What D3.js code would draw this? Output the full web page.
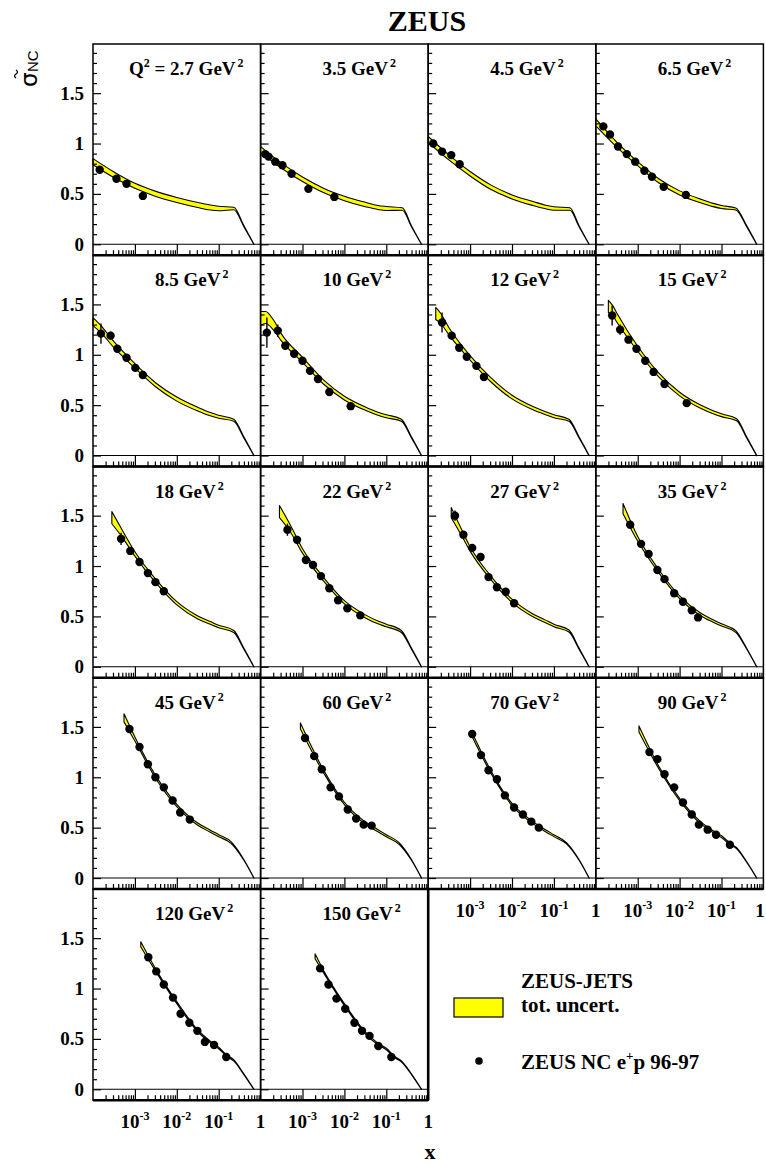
<!DOCTYPE html>
<html><head><meta charset="utf-8">
<script src="https://cdn.jsdelivr.net/npm/d3@7"></script>
<style>body{margin:0;background:#fff}svg{display:block}</style>
</head><body><svg id="c" width="766" height="1165"></svg>
<script>
// ---------- data ----------
const q2Values = [2.7, 3.5, 4.5, 6.5, 8.5, 10, 12, 15, 18, 22, 27, 35, 45, 60, 70, 90, 120, 150];

// ZEUS-JETS fit: log10(x), central reduced cross section, total uncertainty
const curveLogX = [
  [-4, -3.5, -3, -2.5, -2, -1.5, -1.2, -1, -0.64, -0.4, -0.16],
  [-4, -3.5, -3, -2.5, -2, -1.5, -1.2, -1, -0.62, -0.4, -0.16],
  [-4, -3.5, -3, -2.5, -2, -1.5, -1.2, -1, -0.62, -0.4, -0.16],
  [-4, -3.5, -3, -2.5, -2, -1.5, -1.2, -1, -0.66, -0.4, -0.16],
  [-4, -3.8, -3.5, -3, -2.5, -2, -1.5, -1.2, -1, -0.64, -0.4, -0.16],
  [-4, -3.88, -3.7, -3.5, -3, -2.5, -2, -1.5, -1.2, -1, -0.64, -0.4, -0.16],
  [-3.82, -3.7, -3.5, -3, -2.5, -2, -1.5, -1.2, -1, -0.64, -0.4, -0.16],
  [-3.7, -3.6, -3.5, -3, -2.5, -2, -1.5, -1.2, -1, -0.64, -0.4, -0.16],
  [-3.55, -3.3, -3, -2.5, -2, -1.5, -1.2, -1, -0.64, -0.4, -0.16],
  [-3.55, -3.3, -3, -2.5, -2, -1.5, -1.2, -1, -0.64, -0.4, -0.16],
  [-3.45, -3.2, -3, -2.5, -2, -1.5, -1.2, -1, -0.64, -0.4, -0.16],
  [-3.35, -3, -2.5, -2, -1.5, -1.2, -1, -0.66, -0.4, -0.16],
  [-3.26, -3, -2.5, -2, -1.5, -1.2, -1, -0.7, -0.4, -0.16],
  [-3.05, -2.5, -2, -1.5, -1.2, -1, -0.7, -0.4, -0.16],
  [-2.97, -2.5, -2, -1.5, -1.2, -1, -0.7, -0.4, -0.16],
  [-2.97, -2.5, -2, -1.5, -1.2, -1, -0.8, -0.65, -0.4, -0.16],
  [-2.86, -2.5, -2, -1.5, -1.2, -1, -0.8, -0.65, -0.4, -0.16],
  [-2.70, -2.5, -2, -1.5, -1.2, -1, -0.8, -0.65, -0.4, -0.16]
];
const curveSigma = [
  [0.82, 0.69, 0.58, 0.50, 0.44, 0.39, 0.365, 0.355, 0.355, 0.18, 0],
  [0.94, 0.78, 0.645, 0.535, 0.455, 0.395, 0.365, 0.355, 0.35, 0.18, 0],
  [1.04, 0.86, 0.70, 0.565, 0.47, 0.405, 0.37, 0.355, 0.35, 0.18, 0],
  [1.21, 0.99, 0.80, 0.63, 0.51, 0.43, 0.39, 0.37, 0.35, 0.18, 0],
  [1.33, 1.25, 1.10, 0.89, 0.70, 0.56, 0.46, 0.41, 0.385, 0.35, 0.18, 0],
  [1.36, 1.37, 1.30, 1.17, 0.95, 0.73, 0.57, 0.465, 0.415, 0.39, 0.35, 0.18, 0],
  [1.41, 1.36, 1.23, 0.97, 0.75, 0.58, 0.47, 0.42, 0.39, 0.35, 0.18, 0],
  [1.48, 1.44, 1.37, 1.06, 0.80, 0.61, 0.485, 0.43, 0.40, 0.355, 0.18, 0],
  [1.48, 1.32, 1.12, 0.85, 0.63, 0.49, 0.435, 0.40, 0.35, 0.18, 0],
  [1.54, 1.38, 1.15, 0.87, 0.64, 0.50, 0.44, 0.41, 0.35, 0.18, 0],
  [1.53, 1.33, 1.17, 0.88, 0.655, 0.51, 0.45, 0.41, 0.355, 0.18, 0],
  [1.57, 1.27, 0.95, 0.69, 0.52, 0.455, 0.415, 0.35, 0.18, 0],
  [1.59, 1.38, 1.00, 0.72, 0.535, 0.465, 0.42, 0.35, 0.18, 0],
  [1.51, 1.06, 0.74, 0.545, 0.47, 0.42, 0.345, 0.18, 0],
  [1.44, 1.05, 0.73, 0.55, 0.47, 0.42, 0.345, 0.18, 0],
  [1.48, 1.10, 0.78, 0.55, 0.46, 0.41, 0.34, 0.30, 0.16, 0],
  [1.44, 1.18, 0.86, 0.58, 0.47, 0.41, 0.33, 0.29, 0.15, 0],
  [1.32, 1.17, 0.84, 0.56, 0.45, 0.40, 0.32, 0.28, 0.15, 0]
];
const curveErr = [
  [0.03, 0.028, 0.025, 0.025, 0.025, 0.025, 0.025, 0.022, 0.012, 0.005, 0.002],
  [0.03, 0.025, 0.022, 0.022, 0.022, 0.022, 0.02, 0.02, 0.012, 0.005, 0.002],
  [0.03, 0.025, 0.022, 0.022, 0.02, 0.02, 0.018, 0.018, 0.012, 0.005, 0.002],
  [0.035, 0.025, 0.02, 0.02, 0.02, 0.018, 0.016, 0.015, 0.01, 0.005, 0.002],
  [0.04, 0.035, 0.03, 0.022, 0.02, 0.02, 0.018, 0.016, 0.015, 0.01, 0.005, 0.002],
  [0.07, 0.06, 0.05, 0.035, 0.025, 0.02, 0.018, 0.016, 0.015, 0.015, 0.01, 0.005, 0.002],
  [0.06, 0.05, 0.035, 0.022, 0.02, 0.018, 0.016, 0.015, 0.015, 0.01, 0.005, 0.002],
  [0.06, 0.05, 0.045, 0.025, 0.02, 0.018, 0.016, 0.015, 0.014, 0.01, 0.005, 0.002],
  [0.06, 0.035, 0.022, 0.018, 0.016, 0.015, 0.014, 0.013, 0.01, 0.005, 0.002],
  [0.06, 0.035, 0.022, 0.018, 0.016, 0.015, 0.014, 0.013, 0.01, 0.005, 0.002],
  [0.05, 0.03, 0.022, 0.018, 0.016, 0.014, 0.013, 0.012, 0.01, 0.005, 0.002],
  [0.05, 0.022, 0.016, 0.014, 0.013, 0.012, 0.011, 0.008, 0.004, 0.002],
  [0.04, 0.02, 0.014, 0.012, 0.011, 0.01, 0.01, 0.008, 0.004, 0.002],
  [0.03, 0.014, 0.012, 0.011, 0.01, 0.01, 0.008, 0.004, 0.002],
  [0.02, 0.013, 0.011, 0.01, 0.01, 0.009, 0.007, 0.004, 0.002],
  [0.03, 0.013, 0.011, 0.01, 0.009, 0.009, 0.008, 0.006, 0.004, 0.002],
  [0.025, 0.012, 0.01, 0.009, 0.008, 0.008, 0.007, 0.006, 0.004, 0.002],
  [0.025, 0.012, 0.01, 0.009, 0.008, 0.008, 0.007, 0.006, 0.004, 0.002]
];

// ZEUS NC e+p 96-97 data: log10(x), reduced cross section, error
const dataLogX = [
  [-3.84, -3.44, -3.2, -2.81],
  [-3.89, -3.81, -3.65, -3.48, -3.26, -2.86, -2.24],
  [-3.88, -3.67, -3.45, -3.25],
  [-3.82, -3.66, -3.47, -3.26, -3.06, -2.84, -2.66, -2.38, -1.85],
  [-3.81, -3.58, -3.42, -3.2, -2.99, -2.81],
  [-3.85, -3.59, -3.41, -3.2, -3.0, -2.82, -2.63, -2.36, -1.85],
  [-3.67, -3.44, -3.26, -3.08, -2.85, -2.67],
  [-3.61, -3.42, -3.22, -3.03, -2.82, -2.62, -2.36, -1.83],
  [-3.33, -3.11, -2.89, -2.69, -2.51, -2.31],
  [-3.36, -3.13, -2.92, -2.75, -2.56, -2.36, -2.15, -1.93, -1.62],
  [-3.36, -3.16, -2.95, -2.75, -2.56, -2.36, -2.15, -1.95],
  [-3.18, -2.92, -2.74, -2.53, -2.36, -2.13, -1.92, -1.71, -1.56],
  [-3.13, -2.89, -2.69, -2.51, -2.31, -2.1, -1.92, -1.69],
  [-2.94, -2.72, -2.54, -2.33, -2.13, -1.92, -1.72, -1.54, -1.35],
  [-2.95, -2.74, -2.56, -2.36, -2.17, -1.95, -1.74, -1.54, -1.36],
  [-2.72, -2.53, -2.36, -2.13, -1.92, -1.71, -1.54, -1.33, -1.13, -0.8],
  [-2.68, -2.49, -2.31, -2.09, -1.91, -1.70, -1.51, -1.33, -1.11, -0.82],
  [-2.58, -2.38, -2.19, -1.98, -1.76, -1.58, -1.40, -1.19, -0.88]
];
const dataSigma = [
  [0.74, 0.65, 0.60, 0.48],
  [0.895, 0.87, 0.82, 0.785, 0.70, 0.55, 0.47],
  [1.00, 0.92, 0.885, 0.795],
  [1.17, 1.09, 0.97, 0.895, 0.82, 0.73, 0.67, 0.57, 0.49],
  [1.21, 1.19, 1.06, 0.97, 0.87, 0.80],
  [1.22, 1.24, 1.09, 1.01, 0.94, 0.84, 0.76, 0.63, 0.49],
  [1.32, 1.19, 1.07, 0.98, 0.89, 0.78],
  [1.39, 1.25, 1.15, 1.06, 0.94, 0.83, 0.71, 0.52],
  [1.27, 1.15, 1.04, 0.93, 0.84, 0.75],
  [1.36, 1.26, 1.06, 1.01, 0.90, 0.78, 0.66, 0.58, 0.51],
  [1.50, 1.31, 1.18, 1.09, 0.89, 0.79, 0.745, 0.63],
  [1.41, 1.22, 1.12, 0.96, 0.87, 0.73, 0.645, 0.56, 0.49],
  [1.48, 1.30, 1.13, 1.00, 0.90, 0.77, 0.65, 0.58],
  [1.39, 1.21, 1.08, 0.90, 0.81, 0.68, 0.59, 0.53, 0.52],
  [1.43, 1.22, 1.07, 0.98, 0.82, 0.70, 0.63, 0.56, 0.50],
  [1.25, 1.18, 1.03, 0.90, 0.75, 0.63, 0.53, 0.48, 0.43, 0.33],
  [1.31, 1.17, 1.04, 0.91, 0.75, 0.66, 0.58, 0.47, 0.44, 0.32],
  [1.20, 1.04, 0.90, 0.80, 0.66, 0.58, 0.53, 0.43, 0.32]
];
const dataErr = [
  [0.03, 0.02, 0.02, 0.03],
  [0.02, 0.02, 0.02, 0.02, 0.02, 0.02, 0.02],
  [0.02, 0.02, 0.02, 0.02],
  [0.02, 0.02, 0.02, 0.02, 0.02, 0.02, 0.02, 0.02, 0.02],
  [0.10, 0.04, 0.03, 0.03, 0.03, 0.03],
  [0.15, 0.06, 0.04, 0.03, 0.03, 0.03, 0.03, 0.03, 0.02],
  [0.10, 0.04, 0.03, 0.03, 0.03, 0.03],
  [0.10, 0.05, 0.03, 0.03, 0.03, 0.03, 0.03, 0.02],
  [0.06, 0.03, 0.03, 0.02, 0.02, 0.02],
  [0.06, 0.04, 0.03, 0.03, 0.03, 0.02, 0.02, 0.02, 0.02],
  [0.05, 0.03, 0.03, 0.04, 0.02, 0.02, 0.02, 0.02],
  [0.02, 0.02, 0.02, 0.02, 0.02, 0.02, 0.02, 0.02, 0.02],
  [0.02, 0.02, 0.02, 0.02, 0.02, 0.02, 0.02, 0.02],
  [0.02, 0.02, 0.02, 0.02, 0.02, 0.02, 0.02, 0.02, 0.02],
  [0.02, 0.02, 0.02, 0.02, 0.02, 0.02, 0.02, 0.02, 0.02],
  [0.02, 0.02, 0.02, 0.02, 0.02, 0.02, 0.02, 0.02, 0.02, 0.02],
  [0.02, 0.02, 0.02, 0.02, 0.02, 0.02, 0.02, 0.02, 0.02, 0.02],
  [0.02, 0.02, 0.02, 0.02, 0.02, 0.02, 0.02, 0.02, 0.02]
];

const xDomain = [1e-4, 1];
const yDomain = [-0.109, 1.988];
const xLabelTicks = [1e-3, 1e-2, 1e-1, 1];
const xLabelBase = ["10", "10", "10", "1"];
const xLabelExp = ["-3", "-2", "-1", ""];
const yMajorTicks = [0, 0.5, 1, 1.5];
const yTickLabels = ["0", "0.5", "1", "1.5"];
const yMinorTicks = [0.1, 0.2, 0.3, 0.4, 0.6, 0.7, 0.8, 0.9, 1.1, 1.2, 1.3, 1.4, 1.6, 1.7, 1.8, 1.9];
const legendBandText = ["ZEUS-JETS", "tot. uncert."];
const legendDataText = ["ZEUS NC e", "+", "p 96-97"];

// ---------- layout ----------
const X0 = 93, PW = 167.6, Y0 = 44, PH = 211.25, W = 766;
const SERIF = "'Liberation Serif','Times New Roman',serif";
const svg = d3.select("#c");

svg.append("text").attr("x", 427).attr("y", 31).attr("text-anchor", "middle")
  .attr("font-family", SERIF).attr("font-weight", "bold").attr("font-size", 30).text("ZEUS");

q2Values.forEach((q2, i) => {
  const r = Math.floor(i / 4), c = i % 4;
  const left = X0 + c * PW, top = Y0 + r * PH, bottom = top + PH;
  const x = d3.scaleLog().domain(xDomain).range([left, left + PW]);
  const y = d3.scaleLinear().domain(yDomain).range([bottom, top]);
  const g = svg.append("g");

  // band
  const pts = curveLogX[i].map((lx, k) => ({ x: Math.pow(10, lx), s: curveSigma[i][k], e: curveErr[i][k] }));
  const area = d3.area().x(d => x(d.x)).y0(d => y(d.s - d.e)).y1(d => y(d.s + d.e)).curve(d3.curveMonotoneX);
  g.append("path").attr("d", area(pts)).attr("fill", "#ffff00")
    .attr("stroke", "#000").attr("stroke-width", 1.1).attr("stroke-linejoin", "round");

  // data
  const dat = dataLogX[i].map((lx, k) => ({ x: Math.pow(10, lx), s: dataSigma[i][k], e: dataErr[i][k] }));
  g.selectAll(".eb").data(dat).join("line")
    .attr("x1", d => x(d.x)).attr("x2", d => x(d.x))
    .attr("y1", d => y(d.s - d.e)).attr("y2", d => y(d.s + d.e))
    .attr("stroke", "#000").attr("stroke-width", 1.4);
  g.selectAll(".pt").data(dat).join("circle")
    .attr("cx", d => x(d.x)).attr("cy", d => y(d.s)).attr("r", 4.2).attr("fill", "#000");

  // zero line
  g.append("line").attr("x1", left).attr("x2", left + PW).attr("y1", y(0)).attr("y2", y(0))
    .attr("stroke", "#000").attr("stroke-width", 1.2);

  // y ticks (inside, pointing right)
  const yMaj = g.append("g").attr("transform", `translate(${left},0)`)
    .call(d3.axisRight(y).tickValues(yMajorTicks).tickSize(8).tickFormat(""));
  const yMin = g.append("g").attr("transform", `translate(${left},0)`)
    .call(d3.axisRight(y).tickValues(yMinorTicks).tickSize(4).tickFormat(""));
  [yMaj, yMin].forEach(a => { a.select(".domain").remove(); a.selectAll("line").attr("stroke-width", 1.2); });

  // x ticks (upwards from bottom)
  const minor = x.ticks().filter(v => Math.abs(Math.log10(v) - Math.round(Math.log10(v))) > 1e-6);
  const xMin = g.append("g").attr("transform", `translate(0,${bottom})`)
    .call(d3.axisTop(x).tickValues(minor).tickSize(5).tickFormat(""));
  const xMaj = g.append("g").attr("transform", `translate(0,${bottom})`)
    .call(d3.axisTop(x).tickValues([1e-3, 1e-2, 1e-1]).tickSize(bottom - y(0)).tickFormat(""));
  [xMin, xMaj].forEach(a => { a.select(".domain").remove(); a.selectAll("line").attr("stroke-width", 1.2); });

  // frame
  g.append("rect").attr("x", left).attr("y", top).attr("width", PW).attr("height", PH)
    .attr("fill", "none").attr("stroke", "#000").attr("stroke-width", 1.5);
  g.append("line").attr("x1", left).attr("x2", left + PW).attr("y1", bottom).attr("y2", bottom)
    .attr("stroke", "#000").attr("stroke-width", 2.6);

  // panel label
  const lab = g.append("text").attr("y", top + 31)
    .attr("font-family", SERIF).attr("font-weight", "bold").attr("font-size", 19);
  if (i === 0) {
    lab.attr("x", left + 36);
    lab.append("tspan").text("Q");
    lab.append("tspan").attr("dy", -8).attr("font-size", 12).text("2");
    lab.append("tspan").attr("dy", 8).text(" = " + q2 + " GeV");
  } else {
    lab.attr("x", left + 62);
    lab.append("tspan").text(q2 + " GeV");
  }
  lab.append("tspan").attr("dy", -8).attr("dx", 2).attr("font-size", 12).text("2");

  // y tick labels on first column
  if (c === 0) {
    const ya = g.append("g").attr("transform", `translate(${left - 9},0)`)
      .call(d3.axisLeft(y).tickValues(yMajorTicks).tickSize(0).tickFormat((d, k) => yTickLabels[k]));
    ya.select(".domain").remove();
    ya.selectAll("text").attr("font-family", SERIF).attr("font-weight", "bold")
      .attr("font-size", 19).attr("fill", "#000").attr("x", 0);
  }

  // x tick labels under bottom panels
  if (r === 4 || (r === 3 && c >= 2)) {
    xLabelTicks.forEach((v, k) => {
      const px = Math.min(x(v), W - 6);
      const t = g.append("text").attr("x", px).attr("y", bottom + 28).attr("text-anchor", "middle")
        .attr("font-family", SERIF).attr("font-weight", "bold").attr("font-size", 19);
      t.append("tspan").text(xLabelBase[k]);
      if (xLabelExp[k]) t.append("tspan").attr("dy", -8).attr("font-size", 12).text(xLabelExp[k]);
    });
  }
});

// thick right edge of last panel in row 5
svg.append("line").attr("x1", X0 + 2 * PW).attr("x2", X0 + 2 * PW)
  .attr("y1", Y0 + 4 * PH).attr("y2", Y0 + 5 * PH).attr("stroke", "#000").attr("stroke-width", 2.6);

// y axis title (rotated sigma-tilde NC)
const yt = svg.append("g").attr("transform", "translate(37,87) rotate(-90)");
yt.append("text").attr("x", 0).attr("y", 0).attr("font-family", "'DejaVu Sans',sans-serif")
  .attr("font-size", 23).text("σ");
yt.append("text").attr("x", 15).attr("y", 1).attr("font-family", "'Liberation Sans',Arial,sans-serif")
  .attr("font-size", 15).text("NC");
yt.append("path").attr("d", "M9,-21 q2,-3 4,0 t4,0").attr("fill", "none")
  .attr("stroke", "#000").attr("stroke-width", 1.3);

// x axis title
svg.append("text").attr("x", 430).attr("y", 1159).attr("text-anchor", "middle")
  .attr("font-family", SERIF).attr("font-weight", "bold").attr("font-size", 22).text("x");

// legend
svg.append("rect").attr("x", 454).attr("y", 998).attr("width", 49).attr("height", 19)
  .attr("fill", "#ffff00").attr("stroke", "#000").attr("stroke-width", 1.2);
svg.append("text").attr("x", 521).attr("y", 988).attr("font-family", SERIF).attr("font-weight", "bold")
  .attr("font-size", 21).text(legendBandText[0]);
svg.append("text").attr("x", 521).attr("y", 1012).attr("font-family", SERIF).attr("font-weight", "bold")
  .attr("font-size", 21).text(legendBandText[1]);
svg.append("circle").attr("cx", 479).attr("cy", 1061).attr("r", 3.8).attr("fill", "#000");
const lt = svg.append("text").attr("x", 521).attr("y", 1069).attr("font-family", SERIF)
  .attr("font-weight", "bold").attr("font-size", 21);
lt.append("tspan").text(legendDataText[0]);
lt.append("tspan").attr("dy", -9).attr("font-size", 13).text(legendDataText[1]);
lt.append("tspan").attr("dy", 9).text(legendDataText[2]);
</script></body></html>
